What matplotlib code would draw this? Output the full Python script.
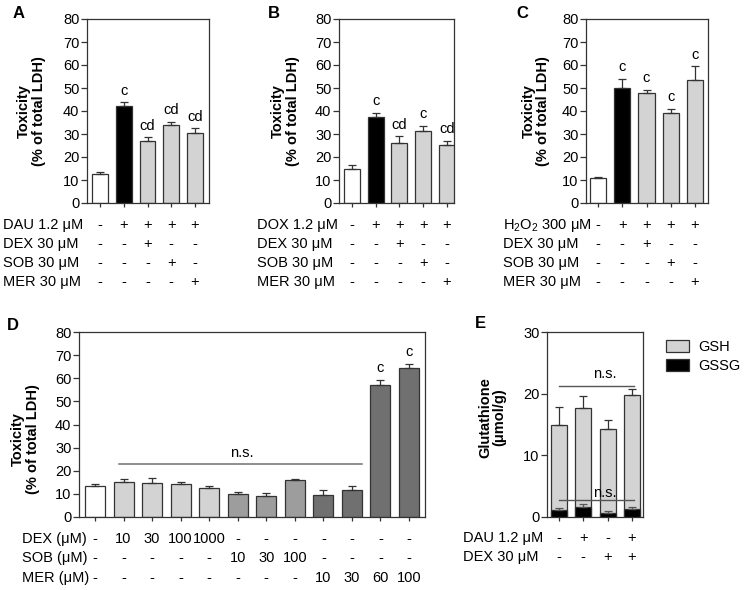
import matplotlib
matplotlib.use("Agg")
import matplotlib.pyplot as plt
import numpy as np

plt.rcParams['font.family'] = ['Liberation Sans', 'DejaVu Sans']
plt.rcParams['mathtext.fontset'] = 'custom'
plt.rcParams['mathtext.rm'] = 'Liberation Sans'
plt.rcParams['font.size'] = 10.5

# ---- data ----
# panel A (DAU)
a_vals = [12.5, 42.0, 27.0, 33.8, 30.5]
a_err = [0.8, 1.7, 1.5, 1.5, 2.0]
a_sig = ['', 'c', 'cd', 'cd', 'cd']
# panel B (DOX)
b_vals = [15.0, 37.3, 26.3, 31.5, 25.3]
b_err = [1.5, 1.8, 2.7, 2.0, 1.8]
b_sig = ['', 'c', 'cd', 'c', 'cd']
# panel C (H2O2)
c_vals = [11.0, 50.0, 48.0, 39.0, 53.5]
c_err = [0.3, 4.0, 1.2, 2.0, 6.0]
c_sig = ['', 'c', 'c', 'c', 'c']

abc_colors = ['white', 'black', '#d3d3d3', '#d3d3d3', '#d3d3d3']
abc_rows = [['-', '+', '+', '+', '+'],
            ['-', '-', '+', '-', '-'],
            ['-', '-', '-', '+', '-'],
            ['-', '-', '-', '-', '+']]
a_labels = ['DAU 1.2 μM', 'DEX 30 μM', 'SOB 30 μM', 'MER 30 μM']
b_labels = ['DOX 1.2 μM', 'DEX 30 μM', 'SOB 30 μM', 'MER 30 μM']
c_labels = [r'H$_\mathregular{2}$O$_\mathregular{2}$ 300 μM', 'DEX 30 μM', 'SOB 30 μM', 'MER 30 μM']

# panel D (inhibitors alone)
d_vals = [13.5, 15.3, 14.8, 14.4, 12.6, 10.0, 9.0, 15.8, 9.3, 11.5, 57.0, 64.5]
d_err = [0.8, 1.3, 2.0, 0.8, 0.9, 1.0, 1.3, 0.6, 2.5, 2.0, 2.2, 1.8]
d_sig = [''] * 10 + ['c', 'c']
d_colors = ['white'] + ['#d3d3d3'] * 4 + ['#9d9d9d'] * 3 + ['#707070'] * 4
d_rows = [['-', '10', '30', '100', '1000', '-', '-', '-', '-', '-', '-', '-'],
          ['-', '-', '-', '-', '-', '10', '30', '100', '-', '-', '-', '-'],
          ['-', '-', '-', '-', '-', '-', '-', '-', '10', '30', '60', '100']]
d_labels = ['DEX (μM)', 'SOB (μM)', 'MER (μM)']

# panel E (glutathione)
gsh_vals = [15.0, 17.7, 14.3, 19.8]
gsh_err = [2.8, 2.0, 1.4, 0.9]
gssg_vals = [1.1, 1.7, 0.7, 1.3]
gssg_err = [0.3, 0.4, 0.2, 0.3]
e_rows = [['-', '+', '-', '+'],
          ['-', '-', '+', '+']]
e_labels = ['DAU 1.2 μM', 'DEX 30 μM']

W, H = 745, 590
fig = plt.figure(figsize=(W / 100, H / 100), dpi=100)

FS = 10.5


def make_ax(l, r, t, b):
    return fig.add_axes([l / W, 1 - b / H, (r - l) / W, (b - t) / H])


def px_to_axes_y(ypx, t, b):
    return (b - ypx) / (b - t)


def style_ax(ax, ymax, step):
    ax.set_ylim(0, ymax)
    ax.set_yticks(np.arange(0, ymax + 1, step))
    for s in ax.spines.values():
        s.set_linewidth(0.9)
        s.set_color('#333333')
    ax.tick_params(axis='y', direction='out', length=4, width=0.9, color='#333333', pad=1.5, labelsize=FS)
    ax.tick_params(axis='x', direction='out', length=3, width=0.9, color='#333333', labelbottom=False)


def bars(ax, vals, err, colors, width):
    x = np.arange(len(vals))
    ax.bar(x, vals, width=width, color=colors, edgecolor='#333333', linewidth=0.9, zorder=2)
    ax.errorbar(x, vals, yerr=[np.zeros(len(err)), err], fmt='none', ecolor='#333333',
                elinewidth=0.9, capsize=3, capthick=0.9, zorder=3)
    ax.set_xticks(x)
    return x


def table(ax, x, rows, labels, ypix, t, b, label_x):
    for r, row in enumerate(rows):
        ya = px_to_axes_y(ypix[r], t, b)
        for xi, s in zip(x, row):
            ax.text(xi, ya, s, transform=ax.get_xaxis_transform(), ha='center', va='center',
                    fontsize=FS, clip_on=False)
        fig.text(label_x / W, 1 - ypix[r] / H, labels[r], ha='left', va='center', fontsize=FS)


ylab = 'Toxicity\n(% of total LDH)'

# ---- panels A, B, C ----
panels = [
    ('A', a_vals, a_err, a_sig, a_labels, 87, 209, (-0.55, 4.59), 3, 19, -0.34),
    ('B', b_vals, b_err, b_sig, b_labels, 339, 454, (-0.54, 4.3), 257, 274, -0.34),
    ('C', c_vals, c_err, c_sig, c_labels, 586, 708, (-0.5, 4.54), 503, 522, -0.295),
]
for letter, vals, err, sig, labels, l, r, xl, lab_x, let_x, ylx in panels:
    t, b = 19, 203
    ax = make_ax(l, r, t, b)
    x = bars(ax, vals, err, abc_colors, 0.67)
    ax.set_xlim(*xl)
    style_ax(ax, 80, 10)
    for xi, v, e, s in zip(x, vals, err, sig):
        if s:
            ax.text(xi, v + e + 2.0, s, ha='center', va='bottom', fontsize=FS)
    ax.set_ylabel(ylab, fontweight='bold', fontsize=10.5, linespacing=1.05)
    ax.yaxis.set_label_coords(ylx, 0.5)
    table(ax, x, abc_rows, labels, [225, 244, 263, 282], t, b, lab_x)
    fig.text(let_x / W, 1 - 13 / H, letter, fontweight='bold', fontsize=12, ha='center', va='center')

# ---- panel D ----
t, b = 332, 517
ax = make_ax(79, 425, t, b)
x = bars(ax, d_vals, d_err, d_colors, 0.7)
ax.set_xlim(-0.56, 11.56)
style_ax(ax, 80, 10)
for xi, v, e, s in zip(x, d_vals, d_err, d_sig):
    if s:
        ax.text(xi, v + e + 2.0, s, ha='center', va='bottom', fontsize=FS)
ax.plot([0.85, 9.35], [22.9, 22.9], color='#707070', lw=1.1, zorder=4)
ax.text(5.15, 24.5, 'n.s.', ha='center', va='bottom', fontsize=FS)
ax.set_ylabel(ylab, fontweight='bold', fontsize=10.5, linespacing=1.05)
ax.yaxis.set_label_coords(-0.113, 0.42)
table(ax, x, d_rows, d_labels, [539, 558, 578], t, b, 22)
fig.text(13 / W, 1 - 326 / H, 'D', fontweight='bold', fontsize=12, ha='center', va='center')

# ---- panel E ----
ax = make_ax(547, 643, t, b)
xe = np.arange(len(gsh_vals))
ax.bar(xe, gsh_vals, width=0.66, color='#d3d3d3', edgecolor='#333333', linewidth=0.9,
       zorder=2, label='GSH')
ax.errorbar(xe, gsh_vals, yerr=[np.zeros(4), gsh_err], fmt='none', ecolor='#333333',
            elinewidth=0.9, capsize=3, capthick=0.9, zorder=3)
ax.bar(xe, gssg_vals, width=0.66, color='black', edgecolor='#333333', linewidth=0.9,
       zorder=4, label='GSSG')
ax.errorbar(xe, gssg_vals, yerr=[np.zeros(4), gssg_err], fmt='none', ecolor='#555555',
            elinewidth=0.9, capsize=3, capthick=0.9, zorder=5)
ax.set_xticks(xe)
ax.set_xlim(-0.49, 3.45)
style_ax(ax, 30, 10)
ax.plot([0.0, 3.1], [21.2, 21.2], color='#555555', lw=1.0, zorder=6)
ax.text(1.9, 22.0, 'n.s.', ha='center', va='bottom', fontsize=FS)
ax.plot([0.0, 3.1], [2.8, 2.8], color='#555555', lw=1.0, zorder=6)
ax.text(1.9, 2.7, 'n.s.', ha='center', va='bottom', fontsize=FS, zorder=6)
ax.set_ylabel('Glutathione\n(μmol/g)', fontweight='bold', fontsize=10.5, linespacing=1.05)
ax.yaxis.set_label_coords(-0.42, 0.54)
ax.legend(loc='upper left', bbox_to_anchor=(666 / W, 1 - 340 / H), bbox_transform=fig.transFigure,
          frameon=False, fontsize=FS, handlelength=1.6, handleheight=0.8,
          handletextpad=0.6, borderpad=0, borderaxespad=0, labelspacing=0.35)
table(ax, xe, e_rows, e_labels, [538, 557], t, b, 463)
fig.text(480 / W, 1 - 324 / H, 'E', fontweight='bold', fontsize=12, ha='center', va='center')

fig.savefig('out.png', dpi=100)
